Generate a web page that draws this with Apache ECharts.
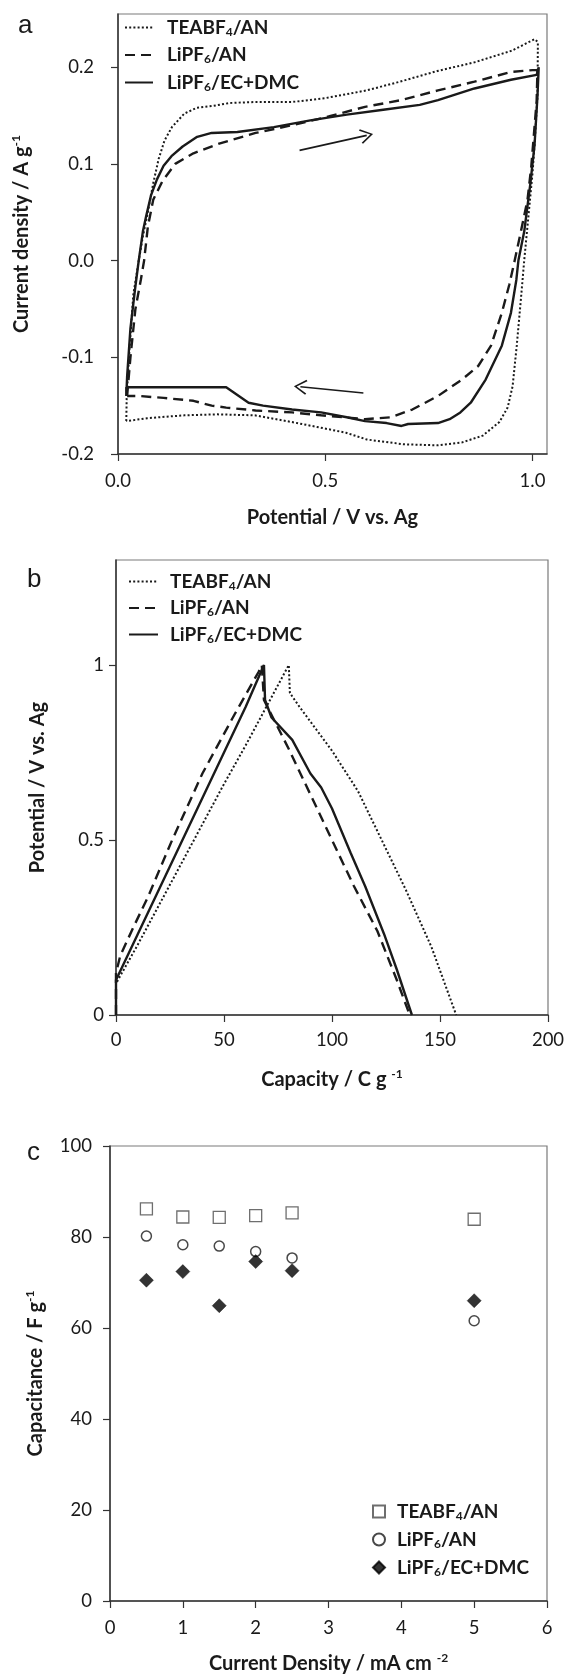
<!DOCTYPE html>
<html>
<head>
<meta charset="utf-8">
<script src="https://cdn.jsdelivr.net/npm/echarts@6.0.0/dist/echarts.min.js"></script>
<style>
  html, body { margin: 0; padding: 0; background: #fff; }
  #chart { width: 570px; height: 1677px; }
</style>
</head>
<body>
<div id="chart"></div>
<script>
// (a) cyclic voltammetry, [potential V, current density A/g], traced round the loop
var teaCV = [
  [0.020, -0.166], [0.021, -0.140], [0.028, -0.090], [0.037, -0.035], [0.050, 0.000],
  [0.060, 0.025], [0.072, 0.050], [0.085, 0.080], [0.098, 0.105], [0.112, 0.124],
  [0.130, 0.138], [0.160, 0.152], [0.190, 0.158], [0.230, 0.160], [0.270, 0.163],
  [0.330, 0.164], [0.420, 0.164], [0.500, 0.168], [0.600, 0.176], [0.680, 0.185],
  [0.770, 0.196], [0.860, 0.205], [0.950, 0.217], [1.005, 0.229], [1.013, 0.226],
  [1.012, 0.170], [1.005, 0.120], [1.000, 0.090], [0.990, 0.045], [0.980, 0.000],
  [0.972, -0.040], [0.962, -0.088], [0.952, -0.130], [0.940, -0.152], [0.920, -0.167],
  [0.880, -0.181], [0.830, -0.188], [0.770, -0.191], [0.690, -0.190], [0.600, -0.185],
  [0.550, -0.178], [0.480, -0.172], [0.420, -0.167], [0.330, -0.160], [0.240, -0.159],
  [0.160, -0.160], [0.070, -0.163], [0.020, -0.166]
];
var anCV = [
  [0.022, -0.140], [0.030, -0.100], [0.042, -0.050], [0.055, -0.020], [0.063, 0.000],
  [0.072, 0.035], [0.085, 0.063], [0.107, 0.082], [0.138, 0.100], [0.182, 0.111],
  [0.244, 0.121], [0.332, 0.132], [0.420, 0.140], [0.508, 0.149], [0.596, 0.159],
  [0.684, 0.166], [0.772, 0.176], [0.860, 0.185], [0.948, 0.195], [1.000, 0.197],
  [1.012, 0.197], [1.010, 0.165], [0.997, 0.097], [0.988, 0.063], [0.972, 0.030],
  [0.957, 0.000], [0.944, -0.025], [0.926, -0.054], [0.900, -0.088], [0.869, -0.109],
  [0.830, -0.123], [0.772, -0.140], [0.710, -0.154], [0.658, -0.162], [0.596, -0.164],
  [0.544, -0.162], [0.490, -0.160], [0.420, -0.157], [0.332, -0.155], [0.261, -0.152],
  [0.226, -0.150], [0.182, -0.145], [0.110, -0.142], [0.050, -0.140], [0.022, -0.140]
];
var ecCV = [
  [0.020, -0.140], [0.022, -0.120], [0.030, -0.070], [0.041, -0.030], [0.050, 0.000],
  [0.060, 0.030], [0.068, 0.046], [0.080, 0.068], [0.094, 0.084], [0.110, 0.098],
  [0.129, 0.108], [0.156, 0.118], [0.191, 0.128], [0.226, 0.132], [0.288, 0.133],
  [0.376, 0.138], [0.464, 0.145], [0.552, 0.151], [0.640, 0.156], [0.728, 0.161],
  [0.772, 0.166], [0.860, 0.178], [0.948, 0.187], [1.010, 0.192], [1.015, 0.200],
  [1.012, 0.170], [1.005, 0.120], [0.995, 0.080], [0.980, 0.030], [0.966, 0.000],
  [0.961, -0.020], [0.948, -0.054], [0.926, -0.088], [0.887, -0.123], [0.851, -0.147],
  [0.826, -0.157], [0.800, -0.164], [0.772, -0.168], [0.700, -0.169], [0.684, -0.171],
  [0.648, -0.168], [0.596, -0.166], [0.552, -0.162], [0.490, -0.157], [0.420, -0.154],
  [0.350, -0.150], [0.315, -0.147], [0.261, -0.131], [0.100, -0.131], [0.020, -0.131],
  [0.020, -0.140]
];

// (b) charge / discharge, [capacity C/g, potential V]
var teaGCD = [
  [0, 0], [0, 0.09], [10, 0.20], [20, 0.315], [30, 0.43], [40, 0.545], [50, 0.66],
  [60, 0.77], [70, 0.885], [80, 1.0], [80.5, 0.92], [85, 0.88], [100, 0.755],
  [112, 0.64], [123, 0.5], [134, 0.36], [146, 0.195], [157.5, 0]
];
var anGCD = [
  [0, 0], [0, 0.12], [2, 0.17], [8, 0.25], [15, 0.34], [26, 0.5], [40, 0.69],
  [55, 0.86], [66, 0.98], [67.5, 1.0], [68.5, 0.9], [80, 0.76], [90, 0.63],
  [100, 0.5], [110, 0.37], [121, 0.24], [130, 0.1], [136, 0]
];
var ecGCD = [
  [0, 0], [0, 0.1], [10, 0.23], [20, 0.36], [30, 0.49], [40, 0.62], [50, 0.75],
  [60, 0.88], [68.5, 1.0], [69, 0.9], [72, 0.85], [81.6, 0.786], [90, 0.69],
  [95, 0.65], [100, 0.59], [108.7, 0.462], [115.4, 0.367], [124, 0.233],
  [130, 0.13], [137, 0]
];

// (c) capacitance vs current density
var currentDensity = [0.5, 1, 1.5, 2, 2.5, 5];
var teaCap = [86.2, 84.4, 84.3, 84.7, 85.3, 83.9];
var anCap = [80.2, 78.3, 78.0, 76.8, 75.4, 61.6];
var ecCap = [70.5, 72.4, 64.9, 74.6, 72.6, 66.0];

var cvXTicks = [0, 0.5, 1];
var cvYTicks = [-0.2, -0.1, 0, 0.1, 0.2];
var gcdYTicks = [0, 0.5, 1];

var legendLabels = {
  aTea: 'TEABF{sub|4}/AN', aAN: 'LiPF{sub|6}/AN', aEC: 'LiPF{sub|6}/EC+DMC',
  bTea: 'TEABF{sub|4}/AN', bAN: 'LiPF{sub|6}/AN', bEC: 'LiPF{sub|6}/EC+DMC',
  cTea: 'TEABF{sub|4}/AN', cAN: 'LiPF{sub|6}/AN', cEC: 'LiPF{sub|6}/EC+DMC'
};

var font = 'Lato, "Open Sans", sans-serif';
var ink = '#1a1a1a';
var tickSize = 18.5;
var dotted = [2, 2.2];
var dashed = [10, 6];

function pairs(xs, ys) {
  return xs.map(function (x, i) { return [x, ys[i]]; });
}

function curve(name, data, idx, type) {
  return {
    name: name,
    type: 'line',
    xAxisIndex: idx,
    yAxisIndex: idx,
    data: data,
    symbol: 'none',
    showSymbol: false,
    color: ink,
    lineStyle: { color: ink, width: type === dotted ? 2 : 2.4, type: type },
    z: 3
  };
}

function axisName(text, gap, extra) {
  return Object.assign({
    name: text,
    nameLocation: 'middle',
    nameGap: gap,
    nameTextStyle: {
      fontFamily: font, fontSize: 20, fontWeight: 'bold', color: ink, lineHeight: 24,
      rich: { sup: { fontFamily: font, fontSize: 12, fontWeight: 'bold', color: ink, lineHeight: 12, verticalAlign: 'top' } }
    }
  }, extra);
}

function baseAxis(idx, min, max, margin) {
  return {
    gridIndex: idx,
    type: 'value',
    min: min,
    max: max,
    axisLine: { onZero: false, lineStyle: { color: '#333', width: 1.5 } },
    axisTick: { length: 7, lineStyle: { color: '#333', width: 1.2 } },
    axisLabel: { fontFamily: font, fontSize: tickSize, color: ink, margin: margin },
    splitLine: { show: false }
  };
}

function legend(names, left, top, w, h, gap, pad, hideDot) {
  var lg = {
    orient: 'vertical',
    left: left,
    top: top,
    data: names,
    itemWidth: w,
    itemHeight: h,
    itemGap: gap,
    padding: 0,
    selectedMode: false,
    formatter: function (n) { return legendLabels[n]; },
    textStyle: {
      fontFamily: font, fontSize: 19, fontWeight: 'bold', color: ink, lineHeight: 21,
      padding: [0, 0, 0, pad],
      rich: { sub: { fontFamily: font, fontSize: 12, fontWeight: 'bold', color: ink, verticalAlign: 'bottom', lineHeight: 12 } }
    }
  };
  if (hideDot) {
    // line legends: keep only the stroke, no marker in the middle
    lg.itemStyle = { color: 'rgba(0,0,0,0)', borderColor: 'rgba(0,0,0,0)', borderWidth: 0 };
  }
  return lg;
}

var arrowHead = 'path://M10,0 L20,18 L18.2,19.6 L10,4.2 L1.8,19.6 L0,18 Z';

var chart = echarts.init(document.getElementById('chart'));
var option = {
  animation: false,
  backgroundColor: '#fff',
  title: [
    { text: 'a', left: 13, top: 8, textStyle: { fontFamily: 'Liberation Sans', fontSize: 26, fontWeight: 'normal', color: ink } },
    { text: 'b', left: 22, top: 562, textStyle: { fontFamily: 'Liberation Sans', fontSize: 26, fontWeight: 'normal', color: ink } },
    { text: 'c', left: 22, top: 1135, textStyle: { fontFamily: 'Liberation Sans', fontSize: 26, fontWeight: 'normal', color: ink } }
  ],
  grid: [
    { left: 118, top: 14, width: 429, height: 440, show: true, borderColor: '#7a7a7a', borderWidth: 1.2 },
    { left: 116, top: 560, width: 432, height: 455, show: true, borderColor: '#7a7a7a', borderWidth: 1.2 },
    { left: 110, top: 1146, width: 437, height: 456, show: true, borderColor: '#7a7a7a', borderWidth: 1.2 }
  ],
  legend: [
    legend(['aTea', 'aAN', 'aEC'], 124, 17, 28, 14, 6.5, 9, true),
    legend(['bTea', 'bAN', 'bEC'], 128, 571, 29, 14, 5.5, 7, true),
    legend(['cTea', 'cAN', 'cEC'], 372, 1501, 12, 12, 7, 7, false)
  ],
  xAxis: [
    Object.assign(baseAxis(0, 0, 1.035, 18), axisName('Potential / V vs. Ag', 52), {
      axisTick: { length: 7, customValues: cvXTicks, lineStyle: { color: '#333', width: 1.2 } },
      axisLabel: { fontFamily: font, fontSize: tickSize, color: ink, margin: 18, customValues: cvXTicks,
        formatter: function (v) { return v.toFixed(1); } }
    }),
    Object.assign(baseAxis(1, 0, 200, 16), axisName('Capacity / C g {sup|-1}', 53), { interval: 50 }),
    Object.assign(baseAxis(2, 0, 6, 18), axisName('Current Density / mA cm {sup|-2}', 51), { interval: 1 })
  ],
  yAxis: [
    Object.assign(baseAxis(0, -0.2, 0.255, 24), axisName('Current density / A g{sup|-1}', 84), {
      axisTick: { length: 7, customValues: cvYTicks, lineStyle: { color: '#333', width: 1.2 } },
      axisLabel: { fontFamily: font, fontSize: tickSize, color: ink, margin: 24, customValues: cvYTicks,
        formatter: function (v) { return v.toFixed(1); } }
    }),
    Object.assign(baseAxis(1, 0, 1.3, 12), axisName('Potential / V vs. Ag', 66), {
      axisTick: { length: 7, customValues: gcdYTicks, lineStyle: { color: '#333', width: 1.2 } },
      axisLabel: { fontFamily: font, fontSize: tickSize, color: ink, margin: 12, customValues: gcdYTicks }
    }),
    Object.assign(baseAxis(2, 0, 100, 18), axisName('Capacitance / F g{sup|-1}', 62), { interval: 20 })
  ],
  series: [
    curve('aTea', teaCV, 0, dotted),
    curve('aAN', anCV, 0, dashed),
    Object.assign(curve('aEC', ecCV, 0, 'solid'), {
      markLine: {
        silent: true,
        symbol: ['none', arrowHead],
        symbolSize: [15, 13],
        label: { show: false },
        lineStyle: { color: ink, width: 1.6, type: 'solid' },
        data: [
          [{ coord: [0.438, 0.114] }, { coord: [0.600, 0.1295] }],
          [{ coord: [0.592, -0.137] }, { coord: [0.440, -0.1305] }]
        ]
      }
    }),
    curve('bTea', teaGCD, 1, dotted),
    curve('bAN', anGCD, 1, dashed),
    curve('bEC', ecGCD, 1, 'solid'),
    {
      name: 'cTea', type: 'scatter', xAxisIndex: 2, yAxisIndex: 2,
      symbol: 'rect', symbolSize: 12,
      itemStyle: { color: '#fff', borderColor: '#4a4a4a', borderWidth: 1.3 },
      data: pairs(currentDensity, teaCap)
    },
    {
      name: 'cAN', type: 'scatter', xAxisIndex: 2, yAxisIndex: 2,
      symbol: 'circle', symbolSize: 10,
      itemStyle: { color: '#fff', borderColor: ink, borderWidth: 1.5 },
      data: pairs(currentDensity, anCap)
    },
    {
      name: 'cEC', type: 'scatter', xAxisIndex: 2, yAxisIndex: 2,
      symbol: 'diamond', symbolSize: 14,
      itemStyle: { color: '#000', borderColor: '#000', borderWidth: 0.5 },
      data: pairs(currentDensity, ecCap)
    }
  ]
};
chart.setOption(option);
</script>
</body>
</html>
